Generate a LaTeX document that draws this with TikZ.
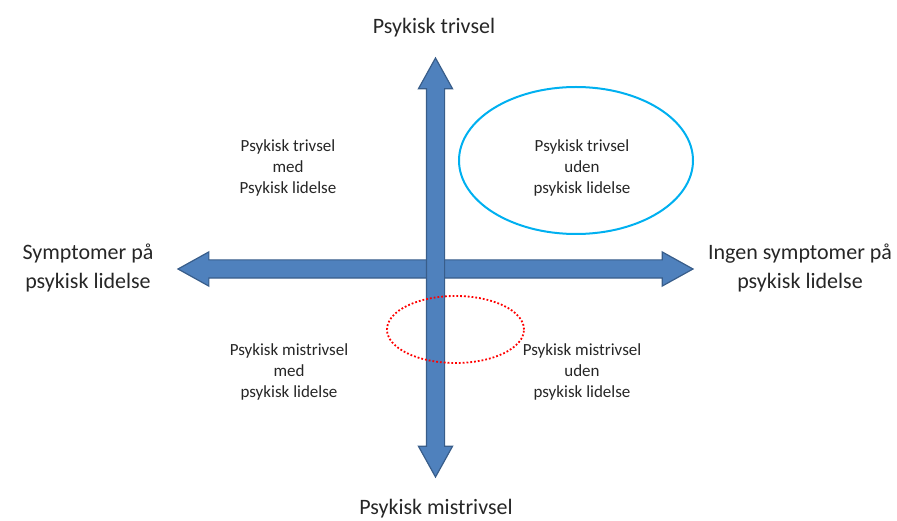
\documentclass[tikz,border=0pt]{standalone}
\usepackage{fontspec}
\setmainfont{Carlito}
\usetikzlibrary{shapes.arrows}
\usetikzlibrary{shapes.geometric}
\definecolor{axisblue}{RGB}{79,129,189}
\definecolor{axisedge}{RGB}{56,93,138}
\definecolor{ringblue}{RGB}{0,176,240}
\tikzset{axisarrow/.style={double arrow, draw=axisedge, fill=axisblue, line width=1.2pt, inner xsep=0pt, inner ysep=8.5pt, double arrow head extend=8pt, double arrow tip angle=58}}
\tikzset{biglab/.style={align=center, text=black!85, font=\fontsize{22}{29}\selectfont}}
\tikzset{quadlab/.style={align=center, text=black!85, font=\fontsize{17}{21}\selectfont}}

\begin{document}
\begin{tikzpicture}[x=1pt,y=-1pt]
  \useasboundingbox (0,0) rectangle (897,521);
  % axes
  \node[axisarrow, minimum height=515pt] (haxis) at (435.5,269) {};
  \node[axisarrow, minimum height=419pt, rotate=90] (vaxis) at (435.5,267.5) {};
  % rings
  \node[ellipse, draw=ringblue, line width=2pt, minimum width=234pt, minimum height=147pt] (goodring) at (576,160.5) {};
  \node[ellipse, draw=red, dotted, line width=1.8pt, minimum width=137pt, minimum height=67pt] (redring) at (455.5,329.5) {};
  % axis labels
  \foreach \x/\y/\lab/\name in {
    434/28/top/Psykisk trivsel,
    436/509/bottom/Psykisk mistrivsel,
    88/268/left/Symptomer på\\psykisk lidelse,
    800/268/right/Ingen symptomer på\\psykisk lidelse%
  } {
    \node[biglab] (\lab) at (\x, \y) {\name};
  }
  % quadrant labels
  \foreach \x/\y/\lab/\name in {
    288/168/goodill/Psykisk trivsel\\med\\Psykisk lidelse,
    582/168/goodwell/Psykisk trivsel\\uden\\psykisk lidelse,
    289/372/badill/Psykisk mistrivsel\\med\\psykisk lidelse,
    582/372/badwell/Psykisk mistrivsel\\uden\\psykisk lidelse%
  } {
    \node[quadlab] (\lab) at (\x, \y) {\name};
  }
\end{tikzpicture}
\end{document}
